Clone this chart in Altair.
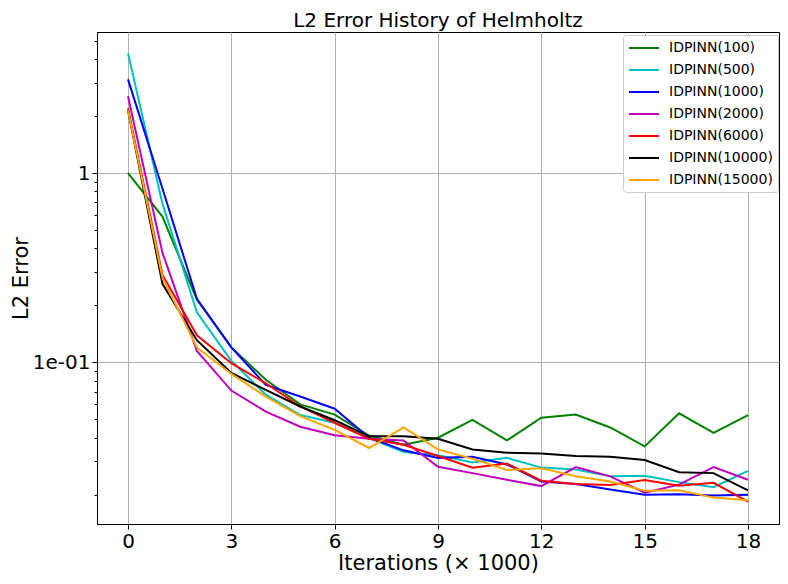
import altair as alt
import pandas as pd

iterations = list(range(19))

series_names = ["IDPINN(100)", "IDPINN(500)", "IDPINN(1000)", "IDPINN(2000)",
                "IDPINN(6000)", "IDPINN(10000)", "IDPINN(15000)"]
series_colors = ["#008000", "#00bfbf", "#0000ff", "#bf00bf", "#ff0000", "#000000", "#ffa500"]

err_100 = [1.0, 0.59, 0.215, 0.12, 0.081, 0.060, 0.053, 0.041, 0.0367, 0.040, 0.0497,
           0.0387, 0.051, 0.053, 0.0453, 0.036, 0.0538, 0.0424, 0.0527]
err_500 = [4.3, 0.69, 0.184, 0.102, 0.0675, 0.0527, 0.048, 0.0398, 0.0336, 0.0323, 0.0296,
           0.0313, 0.0278, 0.0272, 0.025, 0.0252, 0.0233, 0.0219, 0.0267]
err_1000 = [3.13, 0.83, 0.217, 0.12, 0.076, 0.066, 0.0569, 0.040, 0.0343, 0.0313, 0.0317,
            0.0289, 0.0235, 0.0228, 0.0213, 0.020, 0.0201, 0.0198, 0.020]
err_2000 = [2.55, 0.38, 0.115, 0.071, 0.055, 0.0457, 0.0412, 0.0395, 0.0387, 0.0281, 0.026,
            0.024, 0.0222, 0.028, 0.025, 0.0205, 0.0226, 0.028, 0.024]
err_6000 = [2.2, 0.29, 0.139, 0.099, 0.0776, 0.0585, 0.048, 0.0395, 0.0367, 0.032, 0.0278,
            0.0292, 0.0237, 0.0228, 0.0225, 0.0239, 0.0223, 0.0231, 0.0184]
err_10000 = [2.15, 0.26, 0.131, 0.088, 0.0716, 0.0585, 0.0495, 0.0407, 0.0407, 0.0395, 0.0347,
             0.0333, 0.033, 0.032, 0.0317, 0.0305, 0.0263, 0.026, 0.0211]
err_15000 = [2.15, 0.28, 0.12, 0.087, 0.066, 0.052, 0.044, 0.0353, 0.0453, 0.0347, 0.031,
             0.027, 0.0276, 0.025, 0.0235, 0.021, 0.0211, 0.0193, 0.0187]

all_series = [err_100, err_500, err_1000, err_2000, err_6000, err_10000, err_15000]

x_ticks = [0, 3, 6, 9, 12, 15, 18]
y_major = [0.1, 1]
y_minor = [0.02, 0.03, 0.04, 0.05, 0.06, 0.07, 0.08, 0.09,
           0.2, 0.3, 0.4, 0.5, 0.6, 0.7, 0.8, 0.9, 2, 3, 4, 5]

rows = []
for name, vals in zip(series_names, all_series):
    for it, v in zip(iterations, vals):
        rows.append({"iteration": it, "error": v, "series": name})
df = pd.DataFrame(rows)

major_test = "datum.value === 1 || datum.value === 0.1"

chart = alt.Chart(df).mark_line(strokeWidth=2, clip=True).encode(
    x=alt.X("iteration:Q",
            scale=alt.Scale(domain=[-0.9, 18.9], nice=False, zero=False),
            axis=alt.Axis(values=x_ticks, title="Iterations (× 1000)", grid=True,
                          tickSize=5, labelPadding=2, titlePadding=1, labelFlush=False)),
    y=alt.Y("error:Q",
            scale=alt.Scale(type="log", domain=[0.014, 5.57], nice=False),
            axis=alt.Axis(values=y_minor + y_major, title="L2 Error",
                          labelExpr="datum.value === 1 ? '1' : (datum.value === 0.1 ? '1e-01' : '')",
                          tickSize={"condition": {"test": major_test, "value": 5}, "value": 3},
                          gridOpacity={"condition": {"test": major_test, "value": 1}, "value": 0},
                          labelPadding=2, titlePadding=1, labelFlush=False)),
    color=alt.Color("series:N",
                    scale=alt.Scale(domain=series_names, range=series_colors),
                    sort=series_names,
                    legend=alt.Legend(title=None, orient="none", legendX=526, legendY=3,
                                      symbolType="M-2.14,0L2.14,0", symbolSize=196,
                                      symbolStrokeWidth=2, symbolOffset=8,
                                      labelFontSize=14, labelColor="black", labelOffset=17,
                                      labelExpr="datum.label + '  '",
                                      rowPadding=7, padding=5,
                                      fillColor="white", strokeColor="#cccccc", cornerRadius=3)),
).properties(
    width=682,
    height=492,
    title=alt.TitleParams("L2 Error History of Helmholtz", fontSize=20, fontWeight="normal",
                          color="black", offset=1),
    autosize=alt.AutoSizeParams(type="none"),
    padding={"left": 89, "top": 24, "right": 1, "bottom": 52},
).configure(
    font="DejaVu Sans",
    background="white",
).configure_view(
    stroke="black", strokeWidth=1,
).configure_axis(
    domainColor="black", tickColor="black", labelColor="black", titleColor="black",
    labelFontSize=20, titleFontSize=21, titleFontWeight="normal",
    gridColor="#b0b0b0", gridWidth=1,
)

chart.save("out.html", embed_options={"renderer": "svg", "actions": False})
